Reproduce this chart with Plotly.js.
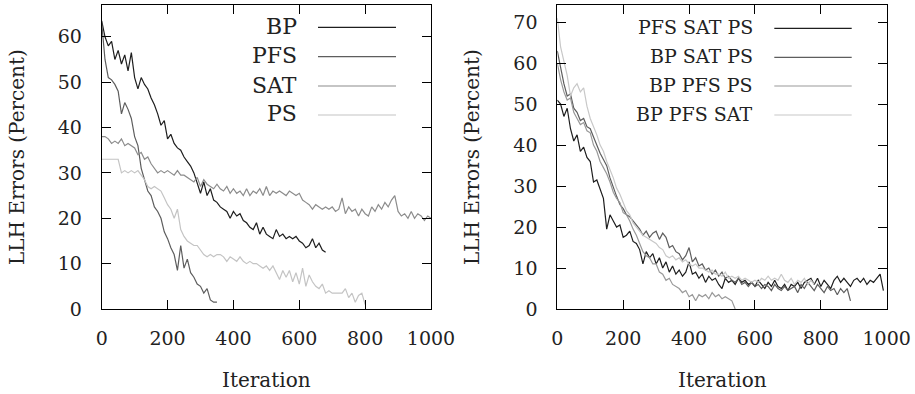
<!DOCTYPE html>
<html>
<head>
<meta charset="utf-8">
<script src="https://cdn.plot.ly/plotly-3.0.1.min.js"></script>
<style>html,body{margin:0;padding:0;background:#fff;}#chart{width:915px;height:394px;}</style>
</head>
<body>
<div id="chart"></div>
<script>
// ---------- Data (x step = 10 iterations) ----------
const STEP = 10;
const leftNames = ["BP", "PFS", "SAT", "PS"];
const rightNames = ["PFS SAT PS", "BP SAT PS", "BP PFS PS", "BP PFS SAT"];

const bp = [63.5,60,58,59,55,57,54,56,52.5,56.5,51,48.5,51,49.5,48.5,46.5,45,43,40.5,41.5,37.5,38.5,36.5,35.5,35,33.5,32.5,31.5,30,27.5,25.5,28,25,26.5,24,23.5,22.5,22,21.5,20,21.5,20.5,21,19.5,19,18,17.5,19,16.5,18,16.5,16,15.5,17.5,16,16.5,15.5,16,15.5,16,15,14.5,13.5,14,15.5,13.5,14.5,13,12.5];
const pfs = [63,55,51,50.5,49.5,48,43,45.5,44,42,38,36,31,28.5,26,25,22.5,21.5,20,17,15.5,13.5,12,8.5,14,9,11,8,7,5.5,5,3.5,4.5,2,1.5,1.5];
const sat = [38,38,37.5,36.5,37,36.5,37.5,36,36.5,36,35.5,34,34.5,33,33.5,32,31,30,30.5,30,30.5,30,29.5,30.5,29.5,29.5,29,28.5,28,29,27,28.5,27.5,27,26.5,27.5,26.5,26,27,25.5,26.5,25.5,26,25,26.5,25,26,25.5,26.5,25,27,25,26,25.5,26,25.5,25,26,25.5,25,25.5,24,23.5,23,22,23,22.5,22,22.5,22,22.5,21.5,22,24.5,21,22.5,21.5,22,20.5,22,21,20.5,22.5,21.5,23,22,23.5,22.5,24,25,21.5,20.5,21,20,21.5,20,21,20.5,19.5,20.5,20];
const ps = [33,33,33,33,33,33,30,30.5,30,30.5,30,30.5,29.5,28.5,27,26.5,27,26.5,26,24.5,23,22,20,22,17.5,16,15,14.5,14,14,13,12,11.5,12,11.5,12,12,11.5,10.5,11.5,11,10.5,11.5,10.5,10,10.5,10,10,9.5,9,9.5,8.5,9.5,8,6.5,8.5,7,8.5,6,8,5.5,9,5,7.5,6,5,4.5,5.5,3.5,4,3.5,3.5,3.5,3.5,4.5,2.5,3.5,1.5,3,3.5,1];

const pfsSatPs = [51,50,47,49,44,41,42.5,38.5,39.5,37,36,31,31.5,29,27,19.5,23,21.5,20,20.5,17.5,18,19,16.5,16,14.5,11,14,12.5,13.5,11,12.5,10,11.5,9,10.5,8.5,9.5,8,9,11.5,8.5,9,7.5,8.5,6.5,8,7,7.5,6,5,7.5,6.5,7,6,7.5,6.5,7,6,6.5,5.5,7,6,5,6.5,5.5,7,5.5,5,6,4.5,6,5.5,6.5,5,6.5,7,7.5,6,7.5,5.5,7,6,5,7,8,6.5,7.5,6.5,5.5,7,7.5,6.5,7.5,6,7,6.5,7.5,8.5,4.5];
const bpSatPs = [63,59,55,52,52.5,49,48,46,46.5,44.5,44,42,40,38,36.5,35,32,29.5,27.5,25.5,24.5,23,22.5,21.5,20.5,19.5,18,19,17.5,18.5,19,17,18.5,17.5,15,15.5,14,13.5,12,13,15,11.5,12.5,10.5,11,9.5,10,8.5,9.5,8,9,7.5,8,7,6.5,7.5,6,6.5,5.5,6.5,5.5,6,5,6,5.5,4.5,6,5,4.5,5.5,4.5,5,5.5,4,6,5,6.5,5.5,4.5,6,5,4,5.5,4.5,5,3.5,5,4,5,2];
const bpPfsPs = [60,56,53,51,51.5,48,46.5,45,45.5,43.5,43,40,38.5,36,34.5,33,31,28.5,27,26,23.5,23,21.5,19.5,18,16,14,13,12.5,11,11,9,8.5,7,7.5,6,5.5,5,4,4.5,3,3.5,2,3.5,3,3.5,2.5,4,3,3.5,2.5,3,2.5,2,0];
const bpPfsSat = [71,64,60.5,57,52,54,55,53,54,49.5,46.5,44.5,42.5,40,38.5,36,34,32,29.5,28,26,24,23,21,20,19,18,17.5,17,16.5,16,15,14.5,13,12.5,13,12,12.5,11.5,12,11,10.5,11,10,10,9.5,9,9.5,8.5,8.5,8,9,7.5,8,7.5,8,7,7.5,7,6.5,7,6.5,7.5,7,8,7,7.5,7,8.5,7,6.5,7.5,6,7,6.5,7.5,6,7,6];

const xTicks = [0, 200, 400, 600, 800, 1000];
const yTicksLeft = [0, 10, 20, 30, 40, 50, 60];
const yTicksRight = [0, 10, 20, 30, 40, 50, 60, 70];

const leftColors = ["#1e1e1e", "#5e5e5e", "#8c8c8c", "#c4c4c4"];
const rightColors = ["#1e1e1e", "#5e5e5e", "#999999", "#c8c8c8"];

// ---------- Build ----------
function xs(arr) { return arr.map((_, i) => i * STEP); }
const leftSeries = [bp, pfs, sat, ps];
const rightSeries = [pfsSatPs, bpSatPs, bpPfsPs, bpPfsSat];

const traces = [];
leftSeries.forEach((s, i) => traces.push({
  x: xs(s), y: s, type: "scatter", mode: "lines", name: leftNames[i],
  line: {color: leftColors[i], width: 1.2}, xaxis: "x", yaxis: "y", showlegend: false
}));
rightSeries.forEach((s, i) => traces.push({
  x: xs(s), y: s, type: "scatter", mode: "lines", name: rightNames[i],
  line: {color: rightColors[i], width: 1.2}, xaxis: "x2", yaxis: "y2", showlegend: false
}));

const W = 915, H = 394;
const FONT = "DejaVu Serif";
const tickFont = {family: FONT, size: 19, color: "#222"};

function axisBase(extra) {
  return Object.assign({
    showgrid: false, zeroline: false, showline: true, linecolor: "#000", linewidth: 1,
    mirror: "ticks", ticks: "inside", ticklen: 9, tickcolor: "#000", tickwidth: 1,
    tickfont: tickFont, fixedrange: true
  }, extra);
}

const annotations = [];
const shapes = [];
function px(x) { return x / W; }
function py(y) { return 1 - y / H; }

// axis titles
[[17, 157], [472, 157]].forEach(p => annotations.push({
  xref: "paper", yref: "paper", x: px(p[0]), y: py(p[1]), text: "LLH Errors (Percent)",
  textangle: -90, showarrow: false, xanchor: "center", yanchor: "middle",
  font: {family: FONT, size: 20, color: "#222"}
}));
[[266.4, 380], [722, 380]].forEach(p => annotations.push({
  xref: "paper", yref: "paper", x: px(p[0]), y: py(p[1]), text: "Iteration",
  showarrow: false, xanchor: "center", yanchor: "middle",
  font: {family: FONT, size: 20, color: "#222"}
}));

// legends (custom: text right-aligned, sample line to the right)
function legend(names, colors, textRight, lineX0, lineX1, rows, fsize) {
  names.forEach((n, i) => {
    annotations.push({
      xref: "paper", yref: "paper", x: px(textRight), y: py(rows[i]), text: n,
      showarrow: false, xanchor: "right", yanchor: "middle", yshift: 1,
      font: {family: FONT, size: fsize, color: "#222"}
    });
    shapes.push({
      type: "line", xref: "paper", yref: "paper",
      x0: px(lineX0), x1: px(lineX1), y0: py(rows[i]), y1: py(rows[i]),
      line: {color: colors[i], width: 1.2}
    });
  });
}
legend(leftNames, leftColors, 299, 318, 396, [27.3, 56.7, 86, 115], 22);
legend(rightNames, rightColors, 755, 774.3, 851.7, [28.3, 57.3, 86, 115], 19);

const yDom = [(H - 309) / H, (H - 5) / H];
const layout = {
  width: W, height: H, margin: {l: 0, r: 0, t: 0, b: 0},
  paper_bgcolor: "#fff", plot_bgcolor: "#fff", showlegend: false, hovermode: false,
  xaxis: axisBase({domain: [101.7 / W, 431 / W], range: [0, 1000], tickvals: xTicks, anchor: "y", ticklabelstandoff: 12}),
  yaxis: axisBase({domain: yDom, range: [0, 67], tickvals: yTicksLeft, anchor: "x", ticklabelstandoff: 15}),
  xaxis2: axisBase({domain: [557.3 / W, 886.7 / W], range: [0, 1000], tickvals: xTicks, anchor: "y2", ticklabelstandoff: 12}),
  yaxis2: axisBase({domain: yDom, range: [0, 74.2], tickvals: yTicksRight, anchor: "x2", ticklabelstandoff: 15}),
  annotations: annotations, shapes: shapes
};

Plotly.newPlot("chart", traces, layout, {staticPlot: true, displayModeBar: false});
</script>
</body>
</html>
